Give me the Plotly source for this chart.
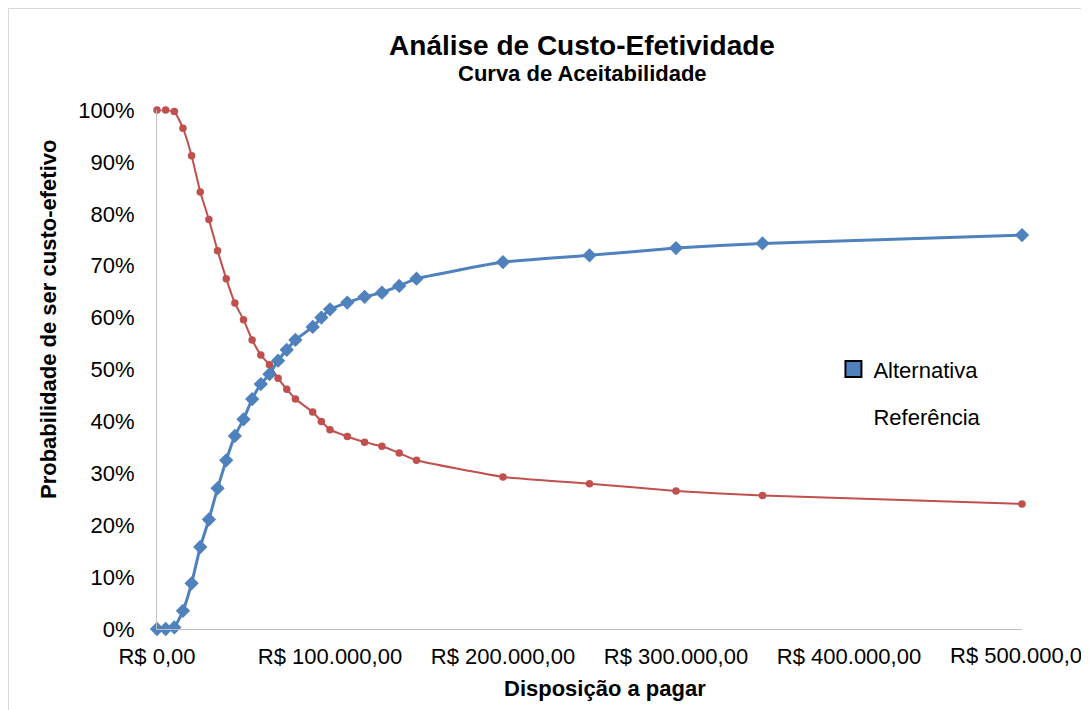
import plotly.graph_objects as go

# willingness-to-pay thresholds (R$)
wtp = [0, 5000, 10000, 15000, 20000, 25000, 30000, 35000, 40000, 45000,
       50000, 55000, 60000, 65000, 70000, 75000, 80000, 90000, 95000, 100000,
       110000, 120000, 130000, 140000, 150000, 200000, 250000, 300000, 350000, 500000]

# probability of being cost-effective (%)
alternativa = [0.0, 0.0, 0.3, 3.5, 8.8, 15.8, 21.1, 27.1, 32.5, 37.2,
               40.4, 44.3, 47.2, 49.1, 51.7, 53.8, 55.7, 58.2, 60.0, 61.6,
               62.9, 64.0, 64.8, 66.1, 67.5, 70.7, 72.0, 73.4, 74.3, 75.9]
referencia = [100.0, 100.0, 99.7, 96.5, 91.2, 84.2, 78.9, 72.9, 67.5, 62.8,
              59.6, 55.7, 52.8, 50.9, 48.3, 46.2, 44.3, 41.8, 40.0, 38.4,
              37.1, 36.0, 35.2, 33.9, 32.5, 29.3, 28.0, 26.6, 25.7, 24.1]

x_ticks = [0, 100000, 200000, 300000, 400000, 500000]
x_ticktext = ["R$ 0,00", "R$ 100.000,00", "R$ 200.000,00",
              "R$ 300.000,00", "R$ 400.000,00", "R$ 500.000,00"]

BLUE = "#4F81BD"
RED = "#C0504D"
FONT = "Arial, Liberation Sans, sans-serif"

# plot area in figure pixels (page adds an 8px body margin)
L, T, R, B = 149, 102, 1014, 621
PW, PH = R - L, B - T


def px_x(x):
    return (x - L) / PW


def px_y(y):
    return (B - y) / PH


fig = go.Figure()
fig.add_trace(go.Scatter(
    x=wtp, y=[v / 100 for v in referencia], mode="lines+markers",
    line=dict(color=RED, width=2, shape="spline", smoothing=0.4),
    marker=dict(symbol="circle", size=7.5, color=RED),
    showlegend=False, cliponaxis=False, name="Referência",
))
fig.add_trace(go.Scatter(
    x=wtp, y=[v / 100 for v in alternativa], mode="lines+markers",
    line=dict(color=BLUE, width=3, shape="spline", smoothing=0.4),
    marker=dict(symbol="diamond", size=11, color=BLUE),
    showlegend=False, cliponaxis=False, name="Alternativa",
))
# legend entries as drawn in the original (square swatch / no swatch)
fig.add_trace(go.Scatter(
    x=[None], y=[None], mode="markers", name="Alternativa", legendgroup="a",
    marker=dict(symbol="square", size=16, color=BLUE, line=dict(color="black", width=2)),
))
fig.add_trace(go.Scatter(
    x=[None], y=[None], mode="markers", name="Referência", legendgroup="b",
    marker=dict(symbol="square", size=16, color="rgba(0,0,0,0)"),
))

fig.update_layout(
    width=1089, height=710,
    paper_bgcolor="white", plot_bgcolor="white",
    margin=dict(l=L, r=1089 - R, t=T, b=710 - B),
    font=dict(family=FONT, color="#000000", size=22),
    title=dict(text="<b>Análise de Custo-Efetividade</b>", x=(582 - 8) / 1089, xanchor="center",
               y=1 - (45 - 8) / 710, yanchor="middle", font=dict(size=28)),
    legend=dict(x=0.782, y=0.541, xanchor="left", yanchor="top", tracegroupgap=16,
                bgcolor="rgba(0,0,0,0)", font=dict(size=22)),
    showlegend=True,
)
fig.update_xaxes(
    range=[0, 500000], tickvals=x_ticks[:-1], ticktext=x_ticktext[:-1], automargin=False,
    showgrid=False, zeroline=False, showline=True, linecolor="#BFBFBF", linewidth=1,
    ticks="", ticklabelstandoff=8,
)
fig.update_yaxes(
    range=[0, 1], dtick=0.1, tickformat=".0%", automargin=False,
    showgrid=False, zeroline=False, showline=True, linecolor="#BFBFBF", linewidth=1,
    ticks="", ticklabelstandoff=17,
)

# last tick label runs past the right edge, as in the original
fig.add_annotation(text=x_ticktext[-1], xref="x", yref="paper", x=x_ticks[-1],
                   y=px_y(655 - 8), xanchor="center", yanchor="middle", showarrow=False,
                   font=dict(size=22))
fig.add_annotation(text="<b>Curva de Aceitabilidade</b>", xref="paper", yref="paper",
                   x=px_x(582 - 8), y=px_y(73 - 8), xanchor="center", yanchor="middle",
                   showarrow=False, font=dict(size=22))
fig.add_annotation(text="<b>Disposição a pagar</b>", xref="paper", yref="paper",
                   x=px_x(605 - 8), y=px_y(688 - 8), xanchor="center", yanchor="middle",
                   showarrow=False, font=dict(size=22))
fig.add_annotation(text="<b>Probabilidade de ser custo-efetivo</b>", xref="paper", yref="paper",
                   x=px_x(48 - 8), y=px_y(320 - 8), xanchor="center", yanchor="middle",
                   textangle=-90, showarrow=False, font=dict(size=22))

# chart area border
fig.add_shape(type="rect", xref="paper", yref="paper",
              x0=px_x(0.5), x1=1.2, y0=-0.3, y1=px_y(0.5),
              line=dict(color="#D9D9D9", width=1))

fig.write_html("out.html")
